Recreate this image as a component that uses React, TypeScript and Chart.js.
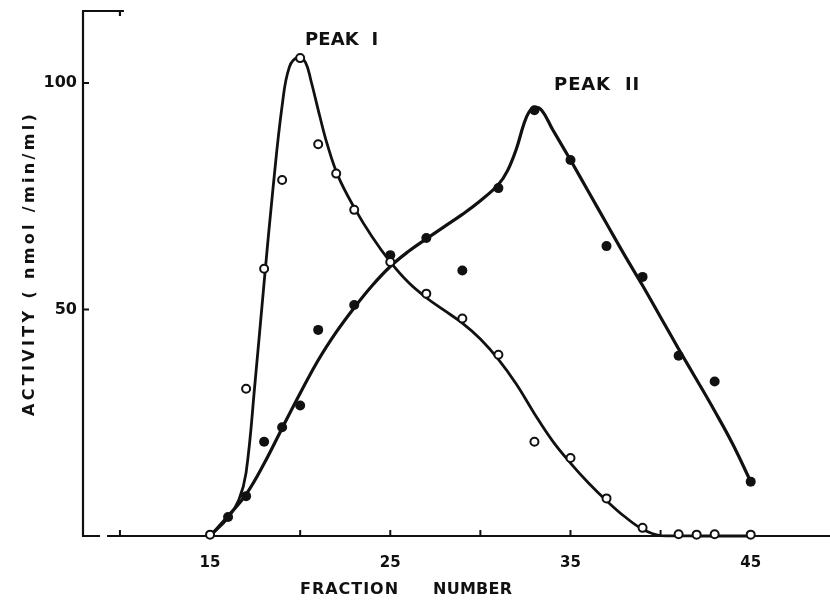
import React, { useEffect, useRef } from 'react';
import { Chart, registerables } from 'chart.js';

Chart.register(...registerables);

// Measured points (open circles = Peak I, filled circles = Peak II)
const peakIFractions = [15, 17, 18, 19, 20, 21, 22, 23, 25, 27, 29, 31, 33, 35, 37, 39, 41, 42, 43, 45];
const peakIActivity = [0.3, 32.5, 59, 78.6, 105.5, 86.5, 80, 72, 60.5, 53.5, 48, 40, 20.8, 17.2, 8.3, 1.8, 0.4, 0.3, 0.4, 0.3];
const peakIIFractions = [16, 17, 18, 19, 20, 21, 23, 25, 27, 29, 31, 33, 35, 37, 39, 41, 43, 45];
const peakIIActivity = [4.2, 8.8, 20.8, 24, 28.8, 45.5, 51, 62, 65.8, 58.6, 76.8, 94, 83, 64, 57.2, 39.8, 34.1, 12];

// Hand-drawn smooth curves
const peakICurveX = [15, 16, 16.6, 17, 17.5, 18, 18.5, 19, 19.4, 19.9, 20.3, 20.6, 21.1, 21.5, 22.1, 23, 24, 25, 26, 27, 28, 29, 30, 31, 32, 33, 34, 35, 36, 37, 38, 39, 40, 42, 45];
const peakICurveY = [0, 4, 8, 14, 34, 56, 77, 95, 103.5, 105.7, 104.5, 100.5, 92.5, 86.5, 79.5, 72.5, 66, 60.5, 56, 52.6, 49.8, 47, 43.5, 39, 33.5, 27, 21, 16.1, 11.7, 7.8, 4.3, 1.5, 0.1, 0, 0];
const peakIICurveX = [15, 16, 17, 18, 19, 20, 21, 22, 23, 24, 25, 26, 27, 28, 29, 30, 31, 31.5, 32, 32.4, 32.7, 33, 33.4, 34, 35, 36, 37, 38, 39, 40, 41, 42, 43, 44, 45];
const peakIICurveY = [0, 4.4, 9.2, 16, 23.8, 31.5, 38.8, 45, 50.4, 55.3, 59.5, 62.8, 65.6, 68.3, 71, 74, 77.6, 80.6, 85.5, 90.8, 93.6, 94.6, 94, 89.8, 83, 76, 69, 62, 55.3, 48.3, 41.3, 34.5, 27.6, 20.3, 12];

// Axes
const xTickValues = [10, 15, 20, 25, 30, 35, 40, 45];
const xTickLabels = ['', '15', '', '25', '', '35', '', '45'];
const yTickValues = [50, 100];
const yTickLabels = ['50', '100'];
const xTitleWords = ['FRACTION', 'NUMBER'];
const yTitle = 'ACTIVITY ( nmol /min/ml)';
const peakNames = ['PEAK  I', 'PEAK  II'];
const peakNameX = [22.3, 36.45];
const peakNameY = [109.5, 99.4];

const INK = '#111';
const FONT = 'DejaVu Sans';

function toPts(xs: number[], ys: number[]) {
  return xs.map((x, i) => ({ x, y: ys[i] }));
}

function drawFitted(ctx: CanvasRenderingContext2D, text: string, left: number, cy: number, width: number) {
  (ctx as any).letterSpacing = '0px';
  const w = ctx.measureText(text).width;
  const n = text.length;
  const sp = n > 1 ? (width - w) / (n - 1) : 0;
  (ctx as any).letterSpacing = sp.toFixed(2) + 'px';
  ctx.textAlign = 'left';
  ctx.textBaseline = 'middle';
  ctx.fillText(text, left, cy);
  (ctx as any).letterSpacing = '0px';
}

const axesPlugin = {
  id: 'axesPlugin',
  beforeDatasetsDraw(chart: any) {
    const { ctx, chartArea, scales } = chart;
    const { left, right, top, bottom } = chartArea;
    const x = scales.x;
    const y = scales.y;
    ctx.save();
    ctx.strokeStyle = INK;
    ctx.lineWidth = 2.2;
    ctx.lineCap = 'butt';
    ctx.beginPath();
    ctx.moveTo(left, top);
    ctx.lineTo(left, bottom + 1);
    const x10 = x.getPixelForValue(10);
    ctx.moveTo(left - 1, top);
    ctx.lineTo(x10 + 4, top);
    ctx.moveTo(x10, top);
    ctx.lineTo(x10, top + 5);
    ctx.moveTo(left - 1, bottom);
    ctx.lineTo(left + 17, bottom);
    ctx.moveTo(left + 24, bottom);
    ctx.lineTo(right, bottom);
    ctx.stroke();
    ctx.beginPath();
    ctx.lineWidth = 2;
    xTickValues.forEach((v) => {
      const px = x.getPixelForValue(v);
      ctx.moveTo(px, bottom);
      ctx.lineTo(px, bottom - 6);
    });
    yTickValues.forEach((v) => {
      const py = y.getPixelForValue(v);
      ctx.moveTo(left, py);
      ctx.lineTo(left + 6, py);
    });
    ctx.stroke();
    ctx.restore();
  },
  afterDraw(chart: any) {
    const { ctx, scales } = chart;
    const x = scales.x;
    const y = scales.y;
    ctx.save();
    ctx.fillStyle = INK;
    ctx.font = `bold 16px "${FONT}"`;
    drawFitted(ctx, xTitleWords[0], 300, 590, 98);
    drawFitted(ctx, xTitleWords[1], 433, 590, 79);
    ctx.save();
    ctx.translate(30, 265);
    ctx.rotate(-Math.PI / 2);
    ctx.font = `bold 16px "${FONT}"`;
    drawFitted(ctx, yTitle, -151, 0, 302);
    ctx.restore();
    ctx.font = `bold 18px "${FONT}"`;
    peakNames.forEach((name, i) => {
      const cx = x.getPixelForValue(peakNameX[i]);
      const cy = y.getPixelForValue(peakNameY[i]);
      const width = i === 0 ? 73 : 85;
      drawFitted(ctx, name, cx - width / 2, cy, width);
    });
    ctx.restore();
  },
};

export default function App() {
  const ref = useRef<HTMLCanvasElement>(null);
  useEffect(() => {
    const canvas = ref.current;
    if (!canvas) return;
    const chart = new Chart(canvas, {
      type: 'line',
      data: {
        datasets: [
          {
            label: 'Peak I points',
            data: toPts(peakIFractions, peakIActivity),
            showLine: false,
            pointRadius: 4,
            pointBorderWidth: 2,
            pointBackgroundColor: '#fff',
            pointBorderColor: INK,
            order: 0,
            clip: false,
          } as any,
          {
            label: 'Peak II points',
            data: toPts(peakIIFractions, peakIIActivity),
            showLine: false,
            pointRadius: 5,
            pointBorderWidth: 0,
            pointBackgroundColor: INK,
            pointBorderColor: INK,
            order: 1,
            clip: false,
          } as any,
          {
            label: 'Peak I curve',
            data: toPts(peakICurveX, peakICurveY),
            borderColor: INK,
            borderWidth: 2.8,
            pointRadius: 0,
            tension: 0.4,
            fill: false,
            order: 2,
            clip: false,
          } as any,
          {
            label: 'Peak II curve',
            data: toPts(peakIICurveX, peakIICurveY),
            borderColor: INK,
            borderWidth: 3.2,
            pointRadius: 0,
            tension: 0.4,
            fill: false,
            order: 3,
            clip: false,
          } as any,
        ],
      },
      options: {
        animation: false,
        responsive: false,
        devicePixelRatio: 1,
        layout: { autoPadding: false, padding: { top: 11, right: 0, left: 0, bottom: 0 } },
        plugins: { legend: { display: false }, tooltip: { enabled: false } },
        scales: {
          x: {
            type: 'linear',
            min: 7.95,
            max: 49.4,
            grid: { display: false, drawTicks: false },
            border: { display: false },
            afterBuildTicks: (s: any) => {
              s.ticks = xTickValues.map((v) => ({ value: v }));
            },
            afterFit: (s: any) => {
              s.height = 66;
              s.paddingLeft = 0;
              s.paddingRight = 0;
            },
            ticks: {
              autoSkip: false,
              maxRotation: 0,
              padding: 18,
              color: INK,
              font: { family: FONT, weight: 'bold', size: 15 },
              callback: (_v: any, i: number) => xTickLabels[i] ?? '',
            },
          },
          y: {
            type: 'linear',
            min: 0,
            max: 115.9,
            grid: { display: false, drawTicks: false },
            border: { display: false },
            afterBuildTicks: (s: any) => {
              s.ticks = yTickValues.map((v) => ({ value: v }));
            },
            afterFit: (s: any) => {
              s.width = 83;
              s.paddingTop = 0;
              s.paddingBottom = 0;
            },
            ticks: {
              padding: 6,
              color: INK,
              font: { family: FONT, weight: 'bold', size: 16 },
              callback: (_v: any, i: number) => yTickLabels[i] ?? '',
            },
          },
        },
      } as any,
      plugins: [axesPlugin],
    });
    return () => chart.destroy();
  }, []);
  return (
    <div style={{ position: 'fixed', left: 0, top: 0, width: 830, height: 602, background: '#fff' }}>
      <canvas ref={ref} width={830} height={602} style={{ display: 'block', width: 830, height: 602 }} />
    </div>
  );
}
